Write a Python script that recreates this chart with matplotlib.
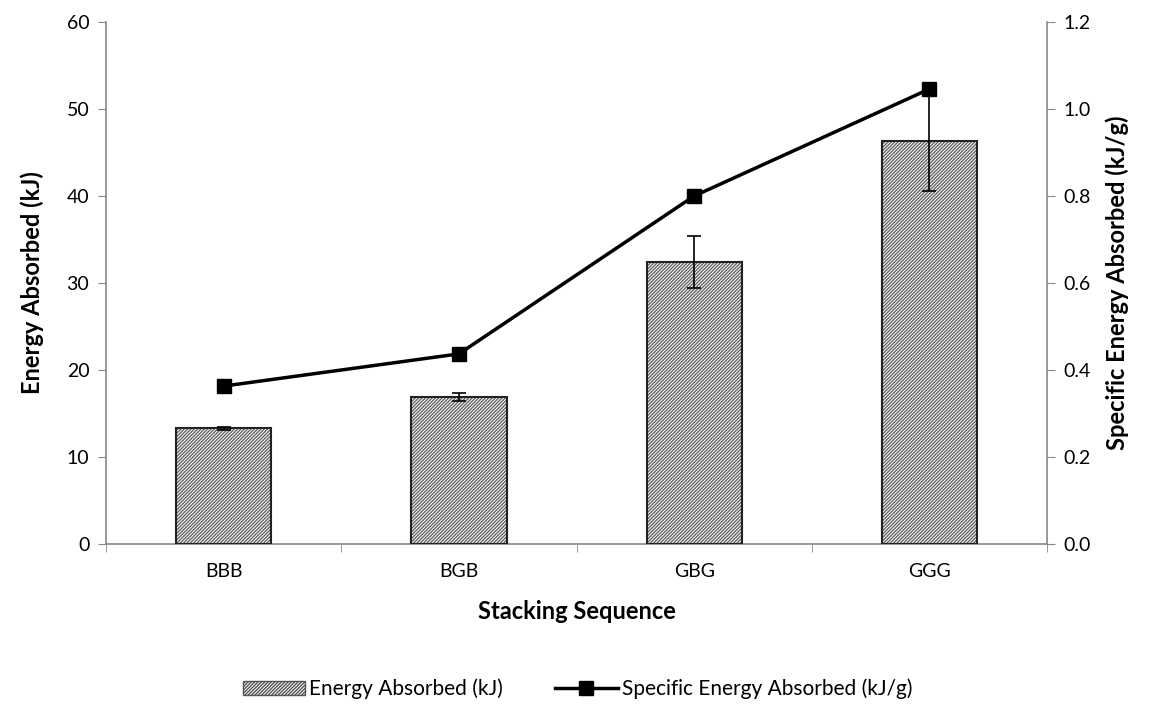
import matplotlib
matplotlib.use("Agg")
import matplotlib.pyplot as plt
import numpy as np
from matplotlib.lines import Line2D
from matplotlib.patches import Patch

categories = ["BBB", "BGB", "GBG", "GGG"]
energy = [13.3, 16.9, 32.4, 46.3]
energy_err = [0.2, 0.5, 3.0, 5.7]
specific = [0.363, 0.437, 0.800, 1.046]

plt.rcParams['font.family'] = ['Lato', 'DejaVu Sans']
plt.rcParams['hatch.linewidth'] = 1.0
plt.rcParams['hatch.color'] = '#666666'

fig = plt.figure(figsize=(11.55, 7.06), dpi=100)
ax = fig.add_axes([0.0918, 0.2295, 0.8147, 0.7393])
ax2 = ax.twinx()

x = np.arange(len(categories))
ax.bar(x, energy, width=0.405, facecolor='white', edgecolor='#666666',
       hatch='//////////', linewidth=0, zorder=2)
ax.bar(x, energy, width=0.405, facecolor='none', edgecolor='#222222',
       linewidth=1.5, zorder=3)
ax.errorbar(x, energy, yerr=energy_err, fmt='none', ecolor='black',
            elinewidth=1.2, capsize=5, capthick=1.2, zorder=4)

ax2.plot(x, specific, color='black', linewidth=2.5, marker='s',
         markersize=10, zorder=5)

ax.set_xlim(-0.5, 3.5)
ax.set_ylim(0, 60)
ax2.set_ylim(0, 1.2)
ax.set_yticks(np.arange(0, 61, 10))
ax2.set_yticks(np.arange(0, 1.21, 0.2))
ax2.set_yticklabels([f"{v:.1f}" for v in np.arange(0, 1.21, 0.2)])
ax.set_xticks(x)
ax.set_xticklabels(categories)
ax.set_xticks(np.arange(-0.5, 3.6, 1), minor=True)
ax.tick_params(axis='x', which='major', length=0, pad=14, labelsize=14)
ax.tick_params(axis='x', which='minor', length=6, color='#888888', direction='out')
ax.tick_params(axis='y', length=6, color='#888888', labelsize=14, pad=6)
ax2.tick_params(axis='y', length=6, color='#888888', labelsize=14, pad=6)

for a in (ax, ax2):
    a.spines['top'].set_visible(False)
    for s in ('left', 'right', 'bottom'):
        a.spines[s].set_color('#888888')
        a.spines[s].set_linewidth(1.2)
ax.spines['right'].set_visible(False)
ax2.spines['left'].set_visible(False)
ax2.spines['bottom'].set_visible(False)
ax2.set_zorder(ax.get_zorder() + 1)
ax2.patch.set_visible(False)

ax.set_xlabel("Stacking Sequence", fontsize=17, fontweight='bold', labelpad=14)
ax.set_ylabel("Energy Absorbed (kJ)", fontsize=17, fontweight='bold', labelpad=16)
ax2.set_ylabel("Specific Energy Absorbed (kJ/g)", fontsize=17, fontweight='bold', labelpad=10)

handles = [Patch(facecolor='white', edgecolor='#555555', hatch='//////////', linewidth=1),
           Line2D([0], [0], color='black', linewidth=2.5, marker='s', markersize=10)]
fig.legend(handles, ["Energy Absorbed (kJ)", "Specific Energy Absorbed (kJ/g)"],
           loc='center', bbox_to_anchor=(0.5, 0.024), ncol=2, frameon=False,
           fontsize=15, handlelength=3, handletextpad=0.2, columnspacing=2.5)

fig.savefig("out.png", dpi=100)
